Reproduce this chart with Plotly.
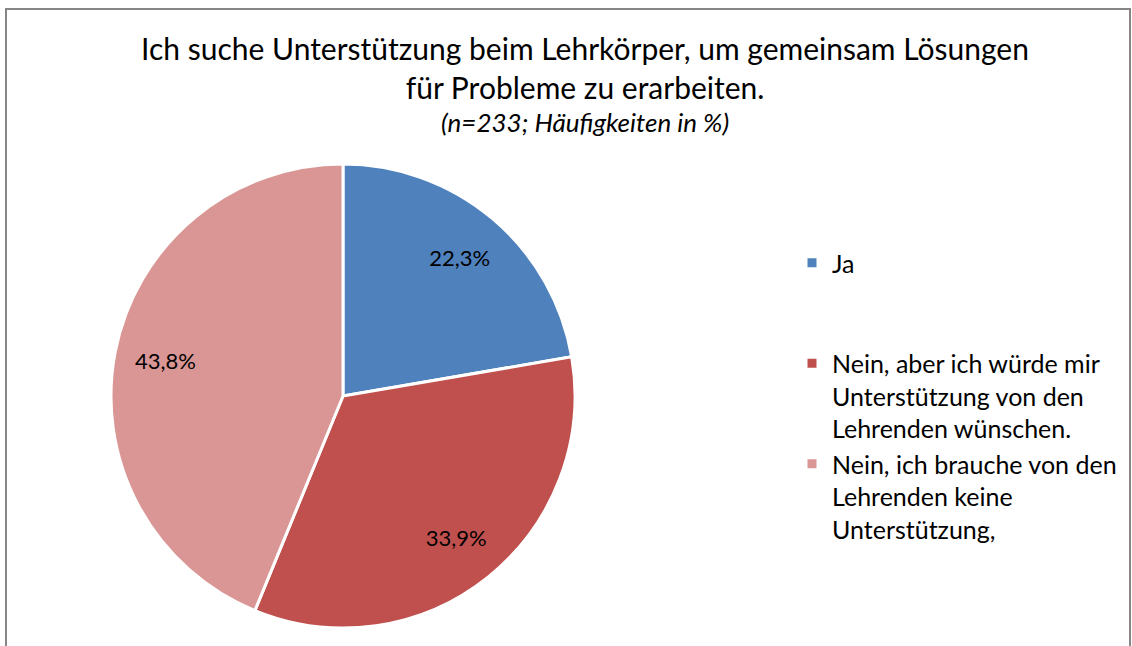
import plotly.graph_objects as go

labels = [
    "Ja<br> <br> ",
    "Nein, aber ich würde mir<br>Unterstützung von den<br>Lehrenden wünschen.",
    "Nein, ich brauche von den<br>Lehrenden keine<br>Unterstützung,",
]
values = [22.3, 33.9, 43.8]
colors = ["#4F81BD", "#C0504D", "#D99694"]
title_text = "Ich suche Unterstützung beim Lehrkörper, um gemeinsam Lösungen<br>für Probleme zu erarbeiten."
subtitle_text = "(n=233; Häufigkeiten in %)"

W, H = 1132, 646
FONT = "Lato, Open Sans, sans-serif"

cx, cy, r = 343, 396, 232
domain = dict(x=[(cx - r) / W, (cx + r) / W], y=[(H - cy - r) / H, (H - cy + r) / H])

fig = go.Figure()
# filled slices
fig.add_trace(go.Pie(
    labels=labels,
    values=values,
    sort=False,
    direction="clockwise",
    rotation=0,
    marker=dict(colors=colors, line=dict(color="white", width=3)),
    textinfo="none",
    hoverinfo="label+percent",
    domain=domain,
))
# percentage labels placed in the outer ring
fig.add_trace(go.Pie(
    labels=labels,
    values=values,
    sort=False,
    direction="clockwise",
    rotation=0,
    hole=0.56,
    marker=dict(colors=["rgba(0,0,0,0)"] * 3, line=dict(width=0)),
    texttemplate="%{percent:.1%}",
    textposition="inside",
    insidetextorientation="horizontal",
    textfont=dict(size=22, color="black", family=FONT),
    hoverinfo="skip",
    showlegend=False,
    domain=domain,
))

fig.update_layout(
    width=W, height=H,
    margin=dict(l=0, r=0, t=0, b=0),
    paper_bgcolor="white",
    separators=",.",
    font=dict(family=FONT, color="black"),
    title=dict(
        text=title_text,
        x=585 / W, xanchor="center", y=1 - 60 / H, yanchor="top",
        font=dict(size=30, family=FONT, color="black"),
    ),
    annotations=[dict(
        text="<i>" + subtitle_text + "</i>", xref="paper", yref="paper",
        x=585 / W, xanchor="center", y=1 - 122 / H, yanchor="middle",
        showarrow=False, font=dict(size=26, family=FONT, color="black"),
    )],
    legend=dict(
        x=792 / W, xanchor="left", y=1 - 240 / H, yanchor="top",
        font=dict(size=25, family=FONT, color="black"),
        valign="top",
        itemwidth=30,
    ),
    shapes=[dict(
        type="rect", xref="paper", yref="paper",
        x0=6 / W, x1=1130 / W, y0=-0.05, y1=1 - 9 / H,
        line=dict(color="#868686", width=2), fillcolor="rgba(0,0,0,0)", layer="below",
    )],
)

fig.write_html(
    "out.html",
    config={"displayModeBar": False},
    post_script="document.body.style.margin='0';document.body.style.overflow='hidden';",
)
